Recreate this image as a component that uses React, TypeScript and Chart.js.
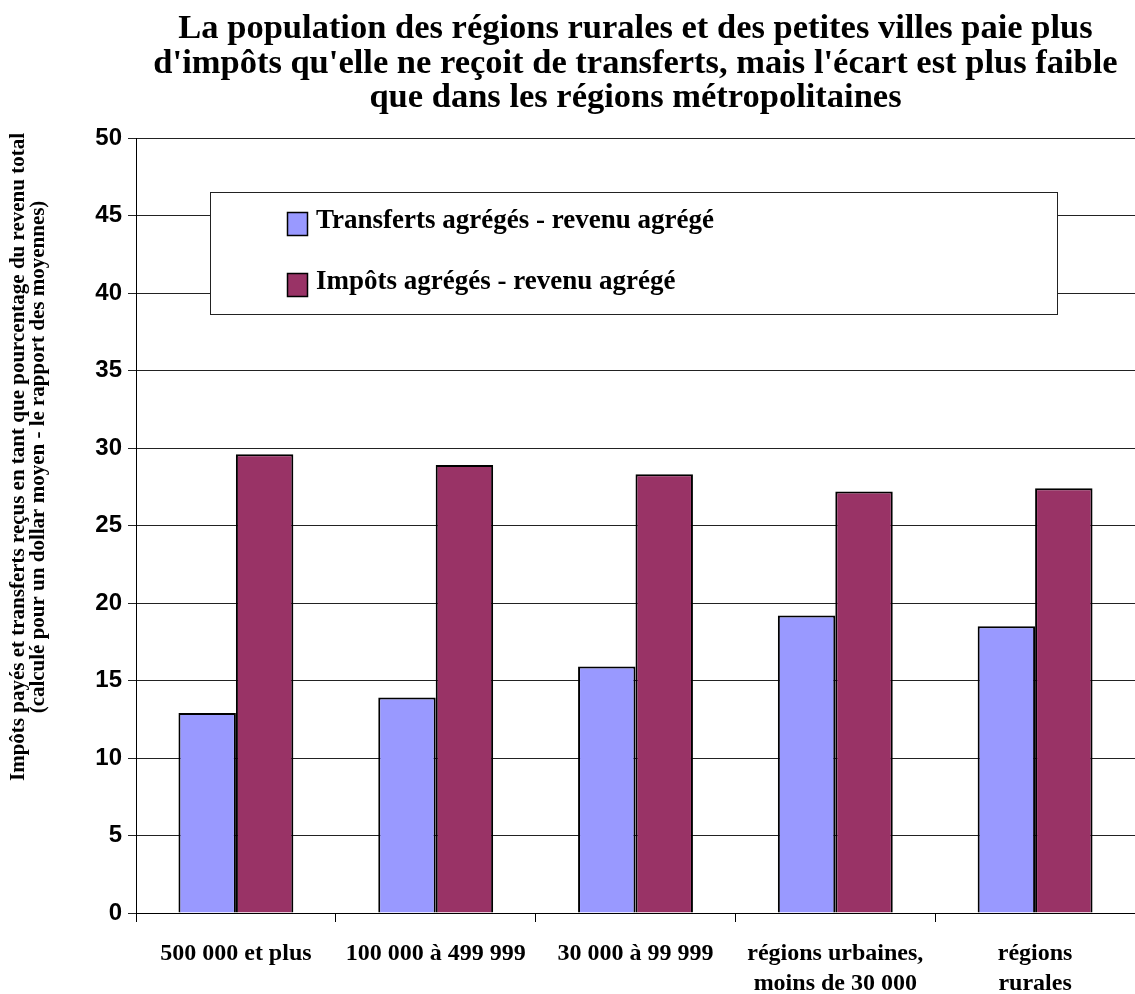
import React, { useEffect, useRef } from "react";
import { Chart, registerables } from "chart.js";

Chart.register(...registerables);

// Population-size categories (bottom axis)
const categories: (string | string[])[] = [
  "500 000 et plus",
  "100 000 à 499 999",
  "30 000 à 99 999",
  ["régions urbaines,", "moins de 30 000"],
  ["régions", "rurales"],
];

// Aggregate transfers / aggregate income, in %
const transfers = [12.9, 13.9, 15.9, 19.2, 18.5];
// Aggregate taxes / aggregate income, in %
const taxes = [29.6, 28.9, 28.3, 27.2, 27.4];

const seriesNames = [
  "Transferts agrégés - revenu agrégé",
  "Impôts agrégés - revenu agrégé",
];

const titleLines = [
  "La population des régions rurales et des petites villes paie plus",
  "d'impôts qu'elle ne reçoit de transferts, mais l'écart est plus faible",
  "que dans les régions métropolitaines",
];

const yTitleLines = [
  "Impôts payés et transferts reçus en tant que pourcentage du revenu total",
  "(calculé pour un dollar moyen - le rapport des moyennes)",
];

const yMin = 0;
const yMax = 50;
const yStep = 5;

const SERIF = "'Liberation Serif', 'Times New Roman', serif";
const SANS = "'Liberation Sans', Arial, sans-serif";

// Boxed legend drawn inside the plot area
const boxedLegend = {
  id: "boxedLegend",
  afterDatasetsDraw(chart: any) {
    const { ctx, chartArea } = chart;
    const left = chartArea.left + 74;
    const top = chartArea.top + 54;
    const w = 847;
    const h = 122;
    ctx.save();
    ctx.fillStyle = "#ffffff";
    ctx.fillRect(left, top, w, h);
    ctx.strokeStyle = "#222222";
    ctx.lineWidth = 1;
    ctx.strokeRect(Math.round(left) + 0.5, Math.round(top) + 0.5, w, h);
    ctx.font = `bold 27px ${SERIF}`;
    ctx.textBaseline = "middle";
    ctx.textAlign = "left";
    chart.data.datasets.forEach((ds: any, i: number) => {
      const cy = top + 29 + i * 61;
      const sx = left + 77;
      ctx.fillStyle = ds.backgroundColor;
      ctx.fillRect(sx, cy - 9, 20, 23);
      ctx.strokeStyle = "#000000";
      ctx.lineWidth = 1.5;
      ctx.strokeRect(sx + 0.5, cy - 9 + 0.5, 20, 23);
      ctx.fillStyle = "#000000";
      ctx.fillText(ds.label, sx + 29, cy);
    });
    ctx.restore();
  },
};

// Two-line rotated title of the value axis
const yAxisTitle = {
  id: "yAxisTitle",
  afterDraw(chart: any) {
    const { ctx } = chart;
    ctx.save();
    ctx.font = `bold 21px ${SERIF}`;
    ctx.fillStyle = "#000000";
    ctx.textAlign = "center";
    ctx.textBaseline = "middle";
    yTitleLines.forEach((line, i) => {
      ctx.save();
      ctx.translate(19 + i * 20, 457);
      ctx.rotate(-Math.PI / 2);
      ctx.fillText(line, 0, 0);
      ctx.restore();
    });
    ctx.restore();
  },
};

export default function App() {
  const canvasRef = useRef<HTMLCanvasElement | null>(null);

  useEffect(() => {
    const canvas = canvasRef.current;
    if (!canvas) return;
    const chart = new Chart(canvas, {
      type: "bar",
      data: {
        labels: categories,
        datasets: [
          {
            label: seriesNames[0],
            data: transfers,
            backgroundColor: "#9999FF",
            borderColor: "#000000",
            borderWidth: 2,
          },
          {
            label: seriesNames[1],
            data: taxes,
            backgroundColor: "#993366",
            borderColor: "#000000",
            borderWidth: 2,
          },
        ],
      },
      options: {
        responsive: false,
        animation: false,
        devicePixelRatio: 1,
        layout: { padding: 0 },
        datasets: {
          bar: { categoryPercentage: 0.575, barPercentage: 1 },
        },
        plugins: {
          legend: { display: false },
          tooltip: { enabled: false },
          title: {
            display: true,
            text: titleLines,
            fullSize: false,
            color: "#000000",
            font: { family: SERIF, size: 34.5, weight: "bold", lineHeight: 1.0 },
            padding: { top: 12, bottom: 22.5 },
          },
        },
        scales: {
          x: {
            grid: {
              display: true,
              drawOnChartArea: false,
              drawTicks: true,
              tickLength: 9,
              color: "#000000",
            },
            border: { display: true, color: "#000000", width: 1 },
            ticks: {
              color: "#000000",
              font: { family: SERIF, size: 24, weight: "bold", lineHeight: 1.25 },
              padding: 17,
              maxRotation: 0,
              autoSkip: false,
            },
            afterFit(scale: any) {
              scale.height = 81;
            },
          },
          y: {
            min: yMin,
            max: yMax,
            grid: {
              color: "#222222",
              lineWidth: 1,
              tickLength: 8,
            },
            border: { display: true, color: "#000000", width: 1 },
            ticks: {
              stepSize: yStep,
              color: "#000000",
              font: { family: SANS, size: 24, weight: "bold" },
              padding: 6,
            },
            afterFit(scale: any) {
              scale.width = 136;
            },
          },
        },
      },
      plugins: [boxedLegend, yAxisTitle],
    });
    return () => chart.destroy();
  }, []);

  return (
    <div style={{ position: "absolute", left: 0, top: 0, width: 1135, height: 994, background: "#ffffff" }}>
      <canvas ref={canvasRef} width={1135} height={994} style={{ display: "block" }} />
    </div>
  );
}
